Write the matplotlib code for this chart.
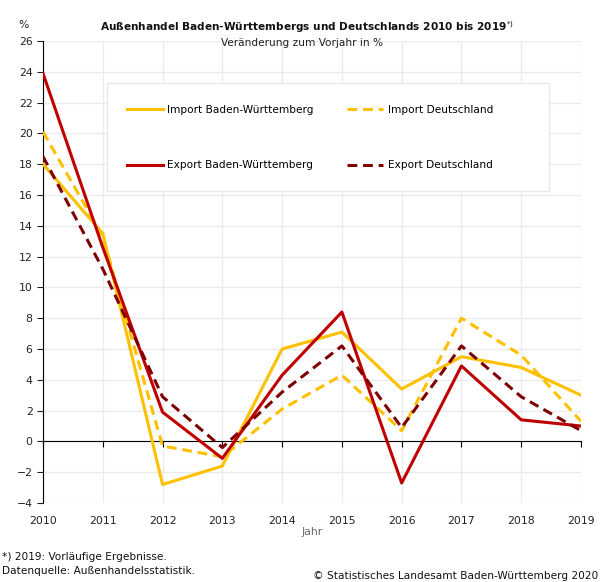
import matplotlib.pyplot as plt
from matplotlib.patches import Rectangle

years = [2010, 2011, 2012, 2013, 2014, 2015, 2016, 2017, 2018, 2019]
import_bw = [18.0, 13.5, -2.8, -1.6, 6.0, 7.1, 3.4, 5.5, 4.8, 3.0]
import_de = [20.1, 13.3, -0.3, -1.0, 2.1, 4.3, 0.7, 8.0, 5.6, 1.3]
export_bw = [23.9, 12.6, 1.9, -1.1, 4.3, 8.4, -2.7, 4.9, 1.4, 1.0]
export_de = [18.5, 11.2, 2.9, -0.4, 3.2, 6.2, 0.9, 6.2, 2.9, 0.7]
yticks = list(range(-4, 27, 2))

YELLOW = "#FFC000"
RED = "#C00000"
DARKRED = "#7F0000"

plt.rcParams["font.family"] = "DejaVu Sans"
fig = plt.figure(figsize=(6.03, 5.82), dpi=100)
ax = fig.add_axes([43 / 603, 1 - 503 / 582, 538 / 603, 462 / 582])

lw = 2.2
dash = (0, (3.2, 1.9))
l1, = ax.plot(years, import_bw, color=YELLOW, lw=lw, label="Import Baden-Württemberg", zorder=4)
l2, = ax.plot(years, import_de, color=YELLOW, lw=lw, ls=dash, label="Import Deutschland", zorder=4)
l3, = ax.plot(years, export_bw, color=RED, lw=lw, label="Export Baden-Württemberg", zorder=5)
l4, = ax.plot(years, export_de, color=DARKRED, lw=lw, ls=dash, label="Export Deutschland", zorder=5)

ax.set_xlim(2010, 2019)
ax.set_ylim(-4, 26)
ax.set_xticks(years)
ax.set_yticks(yticks)
ax.grid(True, color="#ebebeb", lw=1)
ax.set_axisbelow(True)
for s in ["top", "right", "bottom"]:
    ax.spines[s].set_visible(False)
ax.spines["left"].set_color("black")
ax.tick_params(axis="y", length=4, labelsize=7.8, colors="#222222")
ax.tick_params(axis="x", length=0, labelsize=7.8, pad=9, colors="#222222")

# zero line with ticks
sec = ax.secondary_xaxis(4 / 30)
sec.set_zorder(3)
sec.set_xticks(years)
sec.tick_params(length=4, labelbottom=False)
sec.spines["bottom"].set_color("black")

ax.set_xlabel("Jahr", fontsize=7.8, color="#666666", labelpad=1)

# legend box
ax.add_patch(Rectangle((64 / 538, 312 / 462), 442 / 538, 108 / 462, transform=ax.transAxes,
                       facecolor="white", edgecolor="#e8e8e8", lw=1, zorder=3))
ax.legend(handles=[l1, l3, l2, l4], loc="upper left", bbox_to_anchor=(84 / 538, 398 / 462),
          ncol=2, frameon=False, fontsize=7.6, borderpad=0, borderaxespad=0, labelspacing=4.3,
          handlelength=3.4, handletextpad=0.4, columnspacing=3.2)

fig.text(24 / 603, 1 - 25 / 582, "%", fontsize=7.8, ha="center", va="center", color="#222222")
fig.text(307 / 603, 1 - 27 / 582, "Außenhandel Baden-Württembergs und Deutschlands 2010 bis 2019$^{*)}$",
         fontsize=7.6, fontweight="bold", ha="center", va="center", color="#111111")
fig.text(302 / 603, 1 - 43 / 582, "Veränderung zum Vorjahr in %", fontsize=7.6,
         ha="center", va="center", color="#222222")
fig.text(2 / 603, 1 - 557 / 582, "*) 2019: Vorläufige Ergebnisse.", fontsize=7.6, va="center", color="#111111")
fig.text(2 / 603, 1 - 571 / 582, "Datenquelle: Außenhandelsstatistik.", fontsize=7.6, va="center", color="#111111")
fig.text(598 / 603, 1 - 576 / 582, "© Statistisches Landesamt Baden-Württemberg 2020", fontsize=7.6,
         ha="right", va="center", color="#111111")

fig.savefig("out.png", dpi=100, facecolor="white")
